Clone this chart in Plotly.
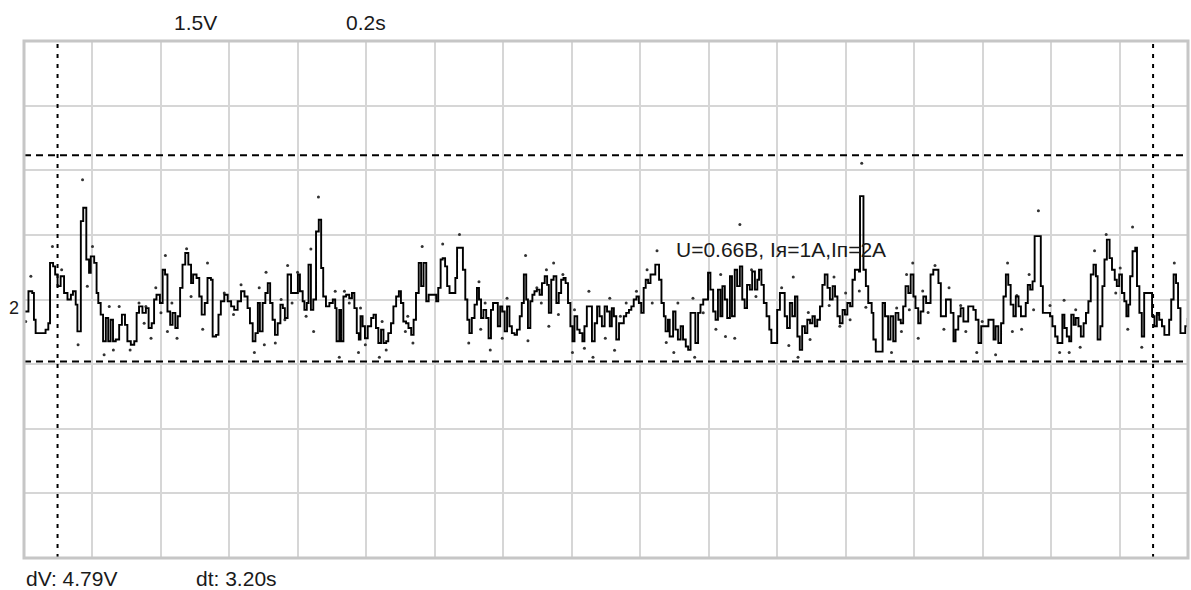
import plotly.graph_objects as go

# Scope settings: 1.5 V/div vertical, 0.2 s/div horizontal, 8 x 17 divisions
volts_per_div = 1.5
sec_per_div = 0.2
n_div_v = 8
n_div_t = 17

# Channel 2 trace (time in s, voltage in V), step-held samples
trace_t = [
    0.003, 0.013, 0.024, 0.029, 0.034, 0.063, 0.071, 0.076, 0.085, 0.091,
    0.098, 0.107, 0.117, 0.127, 0.137, 0.143, 0.151, 0.156, 0.166, 0.173,
    0.182, 0.190, 0.195, 0.205, 0.212, 0.217, 0.224, 0.231, 0.239, 0.246,
    0.253, 0.260, 0.268, 0.278, 0.286, 0.295, 0.302, 0.312, 0.322, 0.329,
    0.336, 0.346, 0.356, 0.364, 0.373, 0.380, 0.387, 0.397, 0.405, 0.412,
    0.419, 0.427, 0.434, 0.442, 0.449, 0.456, 0.463, 0.471, 0.480, 0.488,
    0.494, 0.504, 0.512, 0.519, 0.528, 0.536, 0.546, 0.551, 0.561, 0.568,
    0.575, 0.585, 0.595, 0.605, 0.614, 0.624, 0.634, 0.644, 0.653, 0.660,
    0.668, 0.676, 0.683, 0.689, 0.697, 0.705, 0.712, 0.719, 0.726, 0.733,
    0.741, 0.749, 0.756, 0.762, 0.770, 0.780, 0.800,
    0.806, 0.814, 0.819, 0.826, 0.831, 0.838, 0.845, 0.853, 0.861, 0.868,
    0.874, 0.882, 0.892, 0.902, 0.909, 0.913, 0.921, 0.926, 0.933, 0.941,
    0.950, 0.958, 0.965, 0.972, 0.978, 0.983, 0.989, 0.996, 1.004, 1.014,
    1.021, 1.028, 1.035, 1.043, 1.050, 1.058, 1.064, 1.072, 1.079, 1.087,
    1.095, 1.101, 1.108, 1.116, 1.123, 1.131, 1.138, 1.145, 1.153, 1.160,
    1.167, 1.175, 1.182, 1.204, 1.210, 1.217, 1.223, 1.230, 1.236, 1.243,
    1.260, 1.265, 1.282, 1.289, 1.295, 1.301, 1.308, 1.316, 1.323, 1.329,
    1.335, 1.342, 1.350, 1.357, 1.364, 1.370, 1.384, 1.391, 1.397, 1.404,
    1.411, 1.418, 1.425, 1.433, 1.440, 1.448, 1.454, 1.460, 1.467, 1.472,
    1.479, 1.485, 1.491, 1.498, 1.506, 1.513, 1.521, 1.528, 1.533, 1.540,
    1.547, 1.555, 1.562, 1.569, 1.576, 1.582, 1.589, 1.596, 1.602, 1.608,
    1.616,
    1.623, 1.631, 1.637, 1.644, 1.659, 1.667, 1.674, 1.681, 1.688, 1.696,
    1.703, 1.711, 1.717, 1.723, 1.730, 1.738, 1.752, 1.759, 1.767, 1.774,
    1.781, 1.789, 1.796, 1.803, 1.810, 1.816, 1.823, 1.830, 1.844, 1.855,
    1.862, 1.869, 1.874, 1.881, 1.886, 1.896, 1.903, 1.910, 1.918, 1.925,
    1.933, 1.940, 1.947, 1.961, 1.969, 1.976, 1.984, 1.998, 2.005, 2.013,
    2.020, 2.027, 2.034, 2.040, 2.047, 2.054, 2.062, 2.068, 2.076, 2.083,
    2.091, 2.098, 2.105, 2.112, 2.120, 2.127, 2.135, 2.142, 2.147, 2.154,
    2.161, 2.169, 2.177, 2.183, 2.200, 2.208, 2.222, 2.229, 2.237, 2.244,
    2.252, 2.259, 2.266, 2.273, 2.281, 2.288, 2.296, 2.303, 2.310, 2.317,
    2.325, 2.332, 2.339, 2.347, 2.354, 2.362, 2.369, 2.376, 2.383, 2.391,
    2.398, 2.405, 2.413, 2.420, 2.427, 2.439, 2.442, 2.452, 2.459, 2.466,
    2.476,
    2.481, 2.488, 2.508, 2.515, 2.524, 2.531, 2.539, 2.546, 2.554, 2.561,
    2.568, 2.575, 2.583, 2.590, 2.598, 2.604, 2.612, 2.619, 2.627, 2.635,
    2.648, 2.656, 2.671, 2.678, 2.693, 2.707, 2.715, 2.721, 2.729, 2.736,
    2.744, 2.758, 2.773, 2.780, 2.788, 2.796, 2.817, 2.832, 2.838, 2.846,
    2.854, 2.861, 2.868, 2.875, 2.882, 2.890, 2.897, 2.905, 2.912, 2.926,
    2.932, 2.939, 2.946, 2.952, 2.970, 2.976, 2.997, 3.004, 3.012, 3.019,
    3.033, 3.039, 3.046, 3.053, 3.059, 3.066, 3.072, 3.080, 3.087, 3.095,
    3.102, 3.109, 3.116, 3.124, 3.131, 3.136, 3.144, 3.150, 3.156, 3.163,
    3.171, 3.178, 3.186, 3.192, 3.199, 3.207, 3.214, 3.220, 3.226, 3.231,
    3.238, 3.246, 3.251, 3.258, 3.265, 3.272, 3.295, 3.302, 3.309, 3.316,
    3.324, 3.331, 3.345, 3.351, 3.358, 3.365, 3.371, 3.378, 3.392, 3.399,
]
trace_v = [
    -0.28, 0.19, 0.15, -0.47, -0.78, -0.70, -0.55, 0.85, 0.77, 0.58,
    0.31, 0.54, 0.15, 0.00, 0.11, 0.19, -0.12, -0.74, 1.82, 2.13,
    0.93, 0.62, 1.00, 0.85, 0.15, -0.08, -0.35, -0.97, -0.43, -0.97,
    -0.47, -0.97, -0.93, -0.59, -0.35, -0.59, -0.97, -1.05, -0.97, -0.31,
    -0.16, -0.31, -0.20, -0.66, -0.55, 0.00, 0.11, -0.08, 0.69, 0.58,
    -0.28, -0.59, -0.31, -0.66, -0.39, 0.27, 0.81, 1.08, 0.81, 0.38,
    0.58, 0.50, 0.07, -0.35, -0.08, 0.50, 0.46, -0.86, -0.82, -0.35,
    -0.04, 0.11, -0.04, -0.16, -0.24, -0.04, 0.19, 0.07, -0.20, -0.55,
    -0.97, -0.78, -0.08, -0.74, -0.08, 0.15, 0.38, -0.08, -0.47, -0.82,
    -0.55, -0.12, -0.20, -0.43, 0.58, 0.15, 0.58,
    0.19, -0.04, -0.24, -0.08, 0.81, -0.24, 0.00, 1.58, 1.85, 0.73,
    0.07, -0.16, -0.08, 0.00, -0.20, -0.97, -0.24, -0.97, 0.07, 0.11,
    0.03, 0.15, -0.20, -0.78, -0.93, -0.39, -0.62, -0.90, -0.62, -0.43,
    -0.35, -0.66, -1.01, -0.70, -1.01, -0.97, -0.78, -0.55, -0.16, 0.07,
    0.19, -0.08, -0.51, -0.55, -0.66, -0.82, -0.47, 0.15, 0.85, 0.31,
    0.85, -0.04, 0.11, -0.04, 0.27, 0.93, 0.96, 0.77, 0.31, 0.15,
    0.50, 1.20, 0.69, 0.00, -0.47, -0.78, -0.43, -0.12, 0.27, 0.00,
    -0.43, -0.24, -0.43, -0.90, -0.24, -0.08, -0.62, -0.16, -0.28, -0.74,
    -0.16, -0.62, -0.78, -0.82, -0.70, -0.39, -0.08, 0.58, 0.00, -0.66,
    -0.04, 0.11, 0.19, 0.23, 0.11, 0.38, 0.54, 0.34, -0.31, 0.46,
    0.54, -0.08, 0.15, 0.46, 0.50, 0.38, -0.08, -0.62, -0.97, -0.39,
    -0.70,
    -0.78, -0.97, -0.62, -0.16, -0.97, -0.55, -0.16, -0.39, -0.62, -0.16,
    -0.28, -0.62, -0.20, -0.39, -0.93, -0.55, -0.39, -0.31, -0.24, -0.16,
    0.00, 0.07, -0.08, -0.31, 0.27, 0.46, 0.38, 0.58, 0.81, 0.46,
    -0.08, -0.39, -0.74, -0.47, -0.86, -0.28, -0.70, -0.93, -0.62, -0.93,
    -1.09, -1.17, -0.31, -1.01, -0.31, -0.12, 0.00, 0.62, 0.23, -0.28,
    -0.47, 0.23, -0.39, 0.31, 0.00, -0.43, 0.54, -0.39, 0.69, 0.31,
    0.77, 0.00, -0.20, 0.34, 0.23, 0.65, 0.23, 0.46, 0.69, 0.34,
    -0.08, -0.39, -0.70, -1.01, -0.24, 0.15, -0.39, -0.66, -0.08, -0.39,
    0.07, -0.86, -1.17, -0.62, -0.78, -0.47, -0.55, -0.39, -0.62, -0.47,
    -0.16, 0.34, 0.58, 0.27, 0.00, 0.31, 0.07, -0.39, -0.55, -0.24,
    -0.35, -0.08, -0.16, 0.46, 0.69, 0.65, 2.40, 0.69, 0.31, -0.08,
    -0.31,
    -0.93, -1.21, -0.08, -0.39, -0.93, -0.39, -0.97, -0.31, -0.47, -0.55,
    -0.16, 0.31, 0.15, 0.58, 0.07, -0.20, -0.55, -0.28, 0.07, -0.08,
    0.58, 0.69, 0.38, -0.39, 0.00, -0.31, -0.97, -0.70, -0.39, -0.20,
    -0.51, -0.16, -0.24, -0.47, -1.01, -0.62, -0.47, -0.93, -0.62, -1.01,
    -0.55, 0.07, 0.58, 0.34, -0.12, -0.39, 0.07, -0.16, -0.39, -0.08,
    0.34, 0.23, 0.42, 1.47, 0.31, -0.31, -0.39, -0.62, -0.86, -1.01,
    -0.35, -0.66, -0.86, -0.97, -0.35, -0.59, -0.43, -0.62, -0.86, -0.55,
    -0.31, -0.04, 0.58, 0.81, 0.54, -0.93, -0.62, 0.31, 0.93, 1.39,
    0.96, 0.69, 0.46, 0.31, 0.58, 0.15, -0.04, -0.39, -0.12, 0.54,
    1.12, 1.20, 0.31, -0.31, -0.86, 0.15, -0.39, -0.62, -0.31, -0.47,
    -0.62, -0.82, -0.47, 0.00, 0.58, 0.38, -0.20, -0.78, -0.62, -0.43,
]

# Peak-detect samples shown as loose dots around the trace
dots_t = [
    0.005, 0.020, 0.083, 0.110, 0.158, 0.171, 0.185, 0.200, 0.234, 0.249,
    0.261, 0.278, 0.310, 0.336, 0.351, 0.356, 0.371, 0.385, 0.400, 0.413,
    0.419, 0.432, 0.447, 0.475, 0.488, 0.522, 0.536, 0.585, 0.612, 0.634,
    0.673, 0.687, 0.702, 0.707, 0.734, 0.751, 0.762, 0.770, 0.783,
    0.799, 0.824, 0.838, 0.846, 0.860, 0.909, 0.921, 0.936, 0.950, 0.977,
    0.983, 0.997, 1.038, 1.046, 1.058, 1.114, 1.121, 1.136, 1.163, 1.223,
    1.272, 1.299, 1.329, 1.334, 1.347, 1.362, 1.397, 1.411, 1.465, 1.472,
    1.498, 1.511, 1.526, 1.533, 1.547, 1.561, 1.574, 1.602, 1.608,
    1.637, 1.650, 1.662, 1.698, 1.711, 1.725, 1.742, 1.759, 1.789, 1.820,
    1.835, 1.849, 1.876, 1.898, 1.910, 1.954, 1.959, 1.984, 2.021, 2.035,
    2.049, 2.076, 2.091, 2.125, 2.138, 2.213, 2.234, 2.247, 2.261, 2.291,
    2.296, 2.352, 2.366, 2.383, 2.400, 2.413, 2.440, 2.447, 2.459,
    2.534, 2.549, 2.563, 2.578, 2.586, 2.596, 2.612, 2.625, 2.641, 2.661,
    2.687, 2.702, 2.736, 2.751, 2.783, 2.799, 2.838, 2.873, 2.887, 2.900,
    2.914, 2.936, 2.949, 2.963, 2.997, 3.025, 3.038, 3.053, 3.072, 3.085,
    3.127, 3.161, 3.189, 3.202, 3.224, 3.238, 3.265, 3.314, 3.360,
]
dots_v = [
    -0.51, 0.54, 1.23, 0.69, -1.05, 2.78, 0.31, 1.23, -1.28, -0.16,
    -1.17, -0.16, -1.17, -0.08, -0.55, -0.16, -0.90, 0.27, -0.31, 1.02,
    -0.74, -0.08, -0.90, 1.18, 0.07, -0.69, 0.85, 0.15, -0.35, 0.34,
    -1.23, 0.27, -1.05, 0.63, -1.01, 0.00, -0.47, 0.79, -0.08,
    0.63, -0.39, 1.17, -0.74, 2.38, 0.19, -1.34, 0.19, -0.08, -1.23,
    -0.20, -1.05, -1.34, -0.51, -1.17, -0.74, -0.39, -1.01, 1.23, 1.29,
    1.51, -1.01, 0.41, -0.69, -0.08, -1.17, -0.90, 0.03, 1.02, -0.96,
    0.27, -0.08, 0.69, -0.62, 0.85, -0.35, 0.58, -1.23, -0.24,
    -1.13, 0.19, -1.34, -0.90, 0.03, -1.18, -0.39, -0.08, 0.19, 0.69,
    -0.08, 1.13, -1.00, -1.23, -0.08, 0.03, -1.34, -0.31, -0.69, 0.58,
    -0.86, -0.90, 1.74, 0.69, 0.07, 0.27, -1.07, 0.52, -1.34, -0.30,
    -0.93, -0.14, 0.52, -0.62, 0.15, -0.47, 0.20, 3.16, -0.18,
    -1.23, -0.20, -0.74, 0.58, -0.24, 0.85, -0.90, 0.20, -0.30, 0.79,
    -0.69, 0.27, -0.14, -0.74, -1.23, -0.51, -1.28, 0.85, -0.74, 0.09,
    -0.69, 0.58, -0.24, 2.06, -0.14, -1.23, -0.02, -1.23, -0.24, -1.11,
    1.13, 1.51, 0.15, 0.73, -0.69, 1.68, -1.11, -0.35, 0.85,
]

# Measurement cursors
cursor_t = [0.098, 3.298]
cursor_v = [3.35, -1.44]

label_scale_v = "1.5V"
label_scale_t = "0.2s"
label_dv = "dV: 4.79V"
label_dt = "dt: 3.20s"
label_channel = "2"
label_note = "U=0.66В, Iя=1А,Iп=2А"

t_max = n_div_t * sec_per_div
v_half = n_div_v / 2 * volts_per_div

font_main = "Liberation Sans, Arial, sans-serif"
ink = "#1a1a1a"
fsize = 21

fig = go.Figure()

fig.add_trace(go.Scatter(
    x=dots_t, y=dots_v, mode="markers",
    marker=dict(size=3, color="#333333", line=dict(width=0)),
    hoverinfo="skip", showlegend=False,
))
fig.add_trace(go.Scatter(
    x=trace_t, y=trace_v, mode="lines", line_shape="hv",
    line=dict(color="#000000", width=1.9),
    hoverinfo="skip", showlegend=False,
))

shapes = []
for t in cursor_t:
    shapes.append(dict(type="line", xref="x", yref="paper", x0=t, x1=t, y0=0, y1=1,
                       line=dict(color="#000000", width=2, dash="4px,6px"), layer="above"))
for v in cursor_v:
    shapes.append(dict(type="line", xref="paper", yref="y", x0=0, x1=1, y0=v, y1=v,
                       line=dict(color="#000000", width=2, dash="7px,5px"), layer="above"))
# screen frame
shapes.append(dict(type="rect", xref="paper", yref="paper", x0=0, x1=1, y0=0, y1=1,
                   line=dict(color="#c6c6c6", width=3), layer="above"))

annotations = [
    dict(x=0.5, y=1.035, xref="x", yref="paper", text=label_scale_v, showarrow=False,
         xanchor="center", yanchor="middle", font=dict(family=font_main, size=fsize, color=ink)),
    dict(x=1.0, y=1.035, xref="x", yref="paper", text=label_scale_t, showarrow=False,
         xanchor="center", yanchor="middle", font=dict(family=font_main, size=fsize, color=ink)),
    dict(x=0.0, y=-0.04, xref="x", yref="paper", text=label_dv, showarrow=False,
         xanchor="left", yanchor="middle", font=dict(family=font_main, size=fsize, color=ink)),
    dict(x=0.497, y=-0.04, xref="x", yref="paper", text=label_dt, showarrow=False,
         xanchor="left", yanchor="middle", font=dict(family=font_main, size=fsize, color=ink)),
    dict(x=0.0, y=-0.2, xref="paper", yref="y", text=label_channel, showarrow=False,
         xanchor="right", yanchor="middle", xshift=-3,
         font=dict(family=font_main, size=18, color=ink)),
    dict(x=1.90, y=1.16, xref="x", yref="y", text=label_note, showarrow=False,
         xanchor="left", yanchor="middle", font=dict(family=font_main, size=fsize, color=ink)),
]

fig.update_layout(
    width=1191, height=590,
    margin=dict(l=24, r=3, t=41, b=32),
    paper_bgcolor="#ffffff", plot_bgcolor="#ffffff",
    xaxis=dict(range=[0, t_max], dtick=sec_per_div, tick0=0, showgrid=True,
               gridcolor="#d6d6d6", gridwidth=2, zeroline=False,
               showticklabels=False, ticks="", fixedrange=True),
    yaxis=dict(range=[-v_half, v_half], dtick=volts_per_div, tick0=0, showgrid=True,
               gridcolor="#d6d6d6", gridwidth=2, zeroline=False,
               showticklabels=False, ticks="", fixedrange=True),
    shapes=shapes,
    annotations=annotations,
    showlegend=False,
)

fig.write_html("out.html", config={"displayModeBar": False})
